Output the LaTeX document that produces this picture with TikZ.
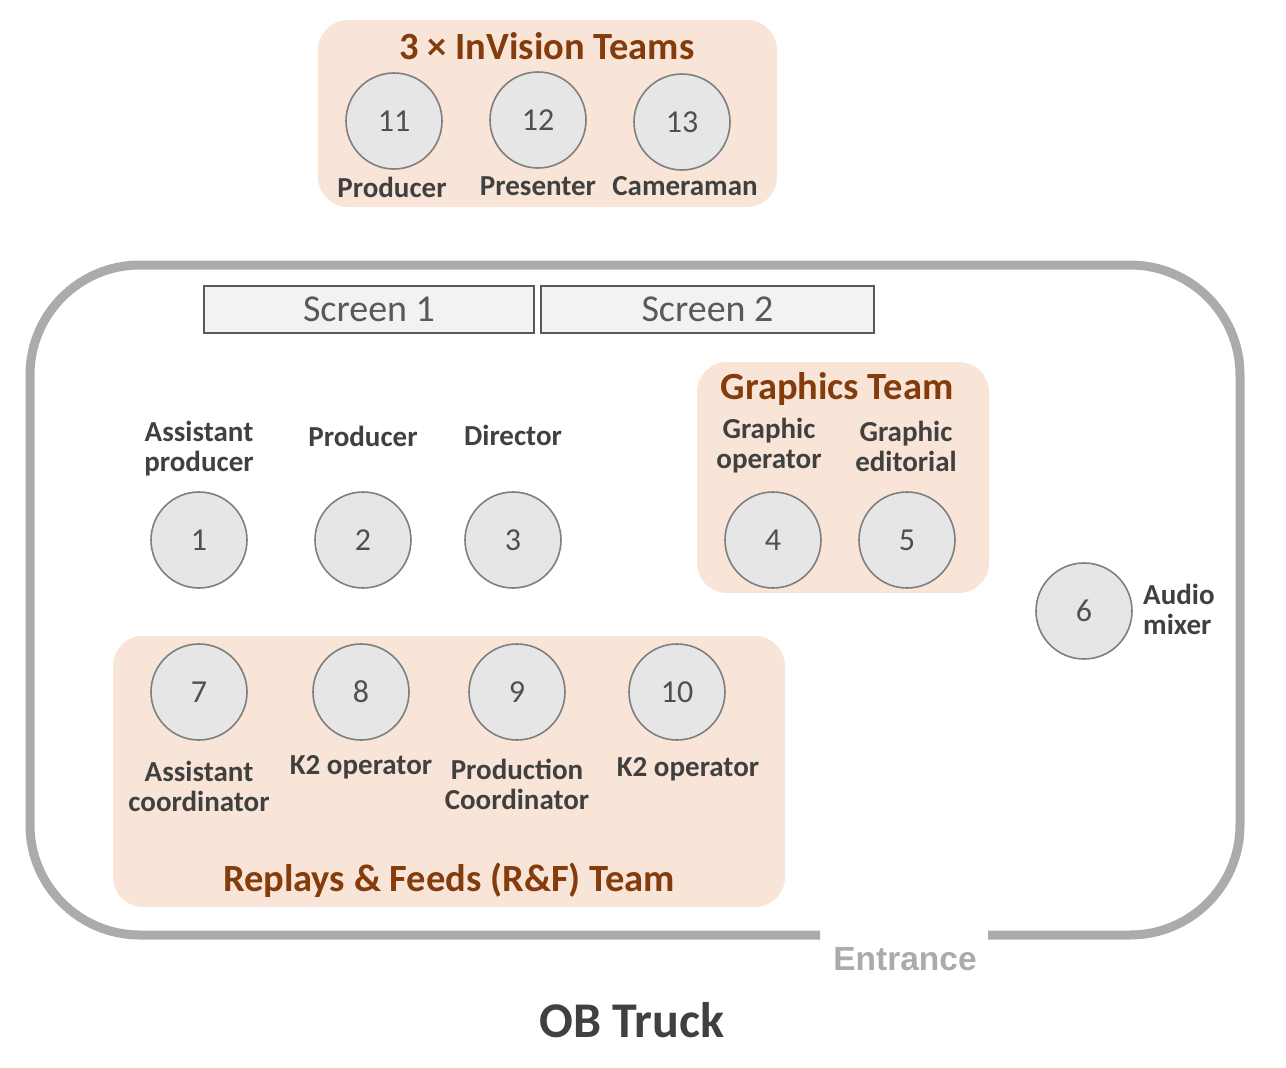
\documentclass[tikz,border=0pt]{standalone}
\usepackage{fontspec}
\setmainfont{Carlito}
\newfontfamily\arialfont{Liberation Sans}
\definecolor{peach}{HTML}{F8E5D8}
\definecolor{brownt}{HTML}{843C0C}
\definecolor{cfill}{HTML}{E6E6E6}
\definecolor{cline}{HTML}{7F7F7F}
\definecolor{dtext}{HTML}{404040}
\definecolor{ntext}{HTML}{505050}
\definecolor{truck}{HTML}{ABABAB}
\definecolor{sfill}{HTML}{F2F2F2}
\definecolor{sline}{HTML}{595959}
\tikzset{
  teambox/.style={fill=peach, draw=none, rounded corners=30pt},
  seat/.style={circle, minimum size=96pt, inner sep=0pt, fill=cfill, draw=cline, line width=1.6pt,
    text=ntext, font=\fontsize{32}{34}\selectfont},
  role/.style={text=dtext, font=\bfseries\fontsize{29}{30}\selectfont, align=center, inner sep=0pt},
  teamtitle/.style={text=brownt, font=\bfseries\fontsize{38.5}{40}\selectfont, inner sep=0pt},
  screenbox/.style={fill=sfill, draw=sline, line width=1.6pt, text=sline,
    font=\fontsize{38}{40}\selectfont, inner sep=0pt},
}
\begin{document}
\begin{tikzpicture}[x=1pt,y=-1pt]
\useasboundingbox (0,0) rectangle (1286,1068);
% InVision team
\fill[teambox] (318,20) rectangle (777,207);
\node[teamtitle] (invt) at (547,46) {3 × InVision Teams};
\node[seat] (s11) at (394,121) {11};
\node[seat] (s12) at (538,120) {12};
\node[seat] (s13) at (682,122) {13};
\node[role] (l11) at (392,187) {Producer};
\node[role] (l12) at (538,186) {Presenter};
\node[role] (l13) at (685,186) {Cameraman};
% Truck outline
\draw[truck, line width=9pt, rounded corners=110pt] (820,935) -- (30,935) -- (30,265) -- (1240,265) -- (1240,935) -- (988,935);
% Screens
\node[screenbox, minimum width=330pt, minimum height=47pt] (scr1) at (369,309.5) {Screen 1};
\node[screenbox, minimum width=333pt, minimum height=47pt] (scr2) at (707.5,309.5) {Screen 2};
% Graphics team
\fill[teambox] (697,362) rectangle (989,593);
\node[teamtitle] (gt) at (837,389) {Graphics Team};
\node[role] (l4) at (769,446) {Graphic\\operator};
\node[role] (l5) at (906,446) {Graphic\\editorial};
\node[seat] (s4) at (773,540) {4};
\node[seat] (s5) at (907,540) {5};
% Front row
\node[role] (l1) at (199,449) {Assistant\\producer};
\node[role] (l2) at (363,436) {Producer};
\node[role] (l3) at (513,435) {Director};
\node[seat] (s1) at (199,540) {1};
\node[seat] (s2) at (363,540) {2};
\node[seat] (s3) at (513,540) {3};
% Audio
\node[seat] (s6) at (1084,611) {6};
\node[role, align=left, anchor=west] (l6) at (1143,609) {Audio\\mixer};
% R&F team
\fill[teambox] (113,636) rectangle (785,907);
\node[seat] (s7) at (199,692) {7};
\node[seat] (s8) at (361,692) {8};
\node[seat] (s9) at (517,692) {9};
\node[seat] (s10) at (677,692) {10};
\node[role] (l7) at (199,786) {Assistant\\coordinator};
\node[role] (l8) at (361,767) {K2 operator};
\node[role] (l9) at (517,784) {Production\\Coordinator};
\node[role] (l10) at (688,769) {K2 operator};
\node[teamtitle] (rft) at (449,880) {Replays \& Feeds (R\&F) Team};
% Entrance and title
\node[text=truck, font=\arialfont\bfseries\fontsize{33.5}{35}\selectfont, inner sep=0pt] (ent) at (905,959) {Entrance};
\node[text=dtext, font=\bfseries\fontsize{50}{52}\selectfont, inner sep=0pt] (obt) at (632,1020) {OB Truck};
\end{tikzpicture}
\end{document}
